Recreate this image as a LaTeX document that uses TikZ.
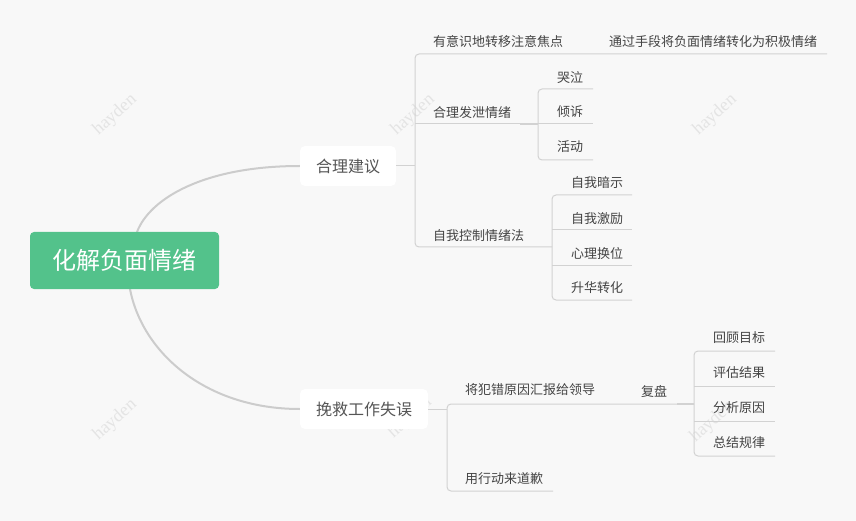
\documentclass[tikz,border=0pt]{standalone}
\usepackage{fontspec}
\setmainfont{Noto Sans CJK SC}
\newfontfamily\wmfont{Liberation Serif}
\definecolor{bgc}{RGB}{248,248,248}
\definecolor{rootgreen}{RGB}{83,194,139}
\definecolor{linec}{RGB}{204,204,204}
\definecolor{barc}{RGB}{210,210,210}
\definecolor{txt}{RGB}{68,68,68}
\definecolor{txtone}{RGB}{85,85,85}
\definecolor{wmc}{RGB}{228,228,228}
\tikzset{
  rootbox/.style={fill=rootgreen, rounded corners=4pt, text=white, font=\fontsize{24}{28}\selectfont, minimum width=189pt, minimum height=57pt, inner sep=0pt},
  onebox/.style={fill=white, rounded corners=5pt, text=txtone, font=\fontsize{16}{19}\selectfont, minimum height=40pt, inner sep=0pt},
  leaf/.style={anchor=west, inner sep=0pt, text=txt, font=\fontsize{13}{15}\selectfont},
  curve/.style={draw=linec, line width=2pt},
  branch/.style={draw=barc, line width=1pt},
  wm/.style={text=wmc, font=\wmfont\fontsize{18}{20}\selectfont, rotate=42, inner sep=0pt}
}
\begin{document}
\begin{tikzpicture}[x=1pt,y=-1pt]
\path[fill=bgc] (0,0) rectangle (856,521);
\useasboundingbox (0,0) rectangle (856,521);
% watermarks
\node[wm] (w1) at (115,115) {hayden};
\node[wm] (w2) at (413,115) {hayden};
\node[wm] (w3) at (715,115) {hayden};
\node[wm] (w4) at (115,420) {hayden};
\node[wm] (w5) at (410,418) {hayden};
\node[wm] (w6) at (712,422) {hayden};
% coordinates
\coordinate (rtop) at (137,232);
\coordinate (rbot) at (130,289);
% level-1 nodes
\node[onebox, minimum width=96pt] (n1) at (348,166) {合理建议};
\node[onebox, minimum width=128pt] (n2) at (364,409) {挽救工作失误};
% curves from root
\draw[curve] (rtop) .. controls (150,198) and (205,166) .. (n1.west);
\draw[curve] (rbot) .. controls (142,352) and (205,409) .. (n2.west);
\node[rootbox] (root) at (124.5,260.5) {化解负面情绪};
% ===== branch 1 =====
\coordinate (b1) at (415,166);
\draw[branch] (n1.east) -- (b1);
\draw[branch, rounded corners=4pt] (827,54) -- (415,54) -- (415,247) -- (552,247);
\draw[branch] (415,124) -- (538,124);
\draw[branch, line width=1.4pt] (520,124) -- (538,124);
\node[leaf] (a1) at (433,42) {有意识地转移注意焦点};
\node[leaf] (a1c) at (609,42) {通过手段将负面情绪转化为积极情绪};
\node[leaf] (a2) at (433,113) {合理发泄情绪};
\node[leaf] (a3) at (433,236) {自我控制情绪法};
% children of a2
\draw[branch, rounded corners=4pt] (593,89) -- (538,89) -- (538,160) -- (593,160);
\draw[branch] (538,124) -- (593,124);
\node[leaf] (c1) at (557,78) {哭泣};
\node[leaf] (c2) at (557,112) {倾诉};
\node[leaf] (c3) at (557,147) {活动};
% children of a3
\draw[branch, rounded corners=4pt] (632,195) -- (552,195) -- (552,300) -- (632,300);
\draw[branch] (552,230) -- (632,230);
\draw[branch] (552,265) -- (632,265);
\node[leaf] (d1) at (571,183) {自我暗示};
\node[leaf] (d2) at (571,219) {自我激励};
\node[leaf] (d3) at (571,254) {心理换位};
\node[leaf] (d4) at (571,288) {升华转化};
% ===== branch 2 =====
\coordinate (b2) at (447,409);
\draw[branch] (n2.east) -- (b2);
\draw[branch, rounded corners=4pt] (694,404) -- (447,404) -- (447,491) -- (553,491);
\draw[branch, line width=1.4pt] (677,404) -- (694,404);
\node[leaf] (e1) at (465,390) {将犯错原因汇报给领导};
\node[leaf] (e1c) at (641,391) {复盘};
\node[leaf] (e2) at (465,479) {用行动来道歉};
% children of 复盘
\draw[branch, rounded corners=4pt] (775,351) -- (694,351) -- (694,456) -- (775,456);
\draw[branch] (694,386) -- (775,386);
\draw[branch] (694,421) -- (775,421);
\node[leaf] (f1) at (713,338) {回顾目标};
\node[leaf] (f2) at (713,373) {评估结果};
\node[leaf] (f3) at (713,408) {分析原因};
\node[leaf] (f4) at (713,443) {总结规律};
\end{tikzpicture}
\end{document}
